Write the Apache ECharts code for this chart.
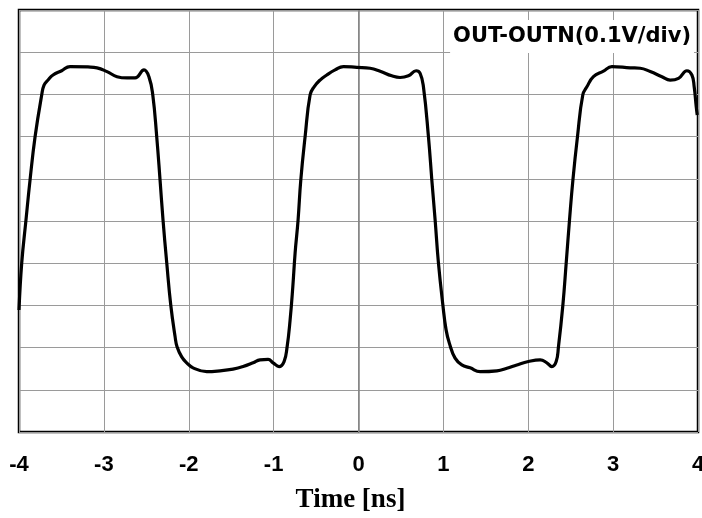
<!DOCTYPE html>
<html>
<head>
<meta charset="utf-8">
<script src="https://cdn.jsdelivr.net/npm/echarts@6/dist/echarts.min.js"></script>
<style>
html,body{margin:0;padding:0;background:#fff;}
#chart{width:702px;height:518px;}
</style>
</head>
<body>
<div id="chart"></div>
<script>
// Time [ns]
var timeNs = [
 -4.000,-3.968,-3.918,-3.870,-3.811,-3.732,-3.705,-3.658,-3.599,-3.497,-3.399,-3.187,-3.081,-2.963,-2.845,-2.727,-2.633,-2.527,-2.468,-2.424,
 -2.377,-2.338,-2.303,-2.259,-2.212,-2.161,-2.138,-2.083,-2.024,-1.949,-1.788,-1.631,-1.478,-1.360,-1.242,-1.160,-1.065,-1.006,-0.936,-0.877,
 -0.841,-0.806,-0.774,-0.747,-0.712,-0.680,-0.629,-0.570,-0.523,-0.453,-0.374,-0.276,-0.178,-0.020,0.137,0.255,0.392,0.490,0.588,0.679,
 0.726,0.765,0.824,0.864,0.903,0.942,0.994,1.032,1.071,1.138,1.217,1.315,1.433,1.630,1.748,1.866,2.002,2.140,2.219,2.278,
 2.329,2.356,2.408,2.447,2.486,2.526,2.580,2.643,2.691,2.768,2.886,2.985,3.201,3.319,3.437,3.575,3.672,3.770,3.869,3.928,
 3.955,3.979,3.991
];
// OUT-OUTN in divisions/10 (0.1 V per division, 10 divisions)
var outDiff = [
 0.289,0.400,0.502,0.597,0.699,0.799,0.822,0.834,0.846,0.856,0.866,0.865,0.863,0.854,0.842,0.839,0.839,0.858,0.841,0.799,
 0.699,0.597,0.502,0.400,0.301,0.226,0.202,0.178,0.164,0.152,0.143,0.145,0.149,0.155,0.164,0.171,0.172,0.164,0.155,0.167,
 0.202,0.265,0.344,0.424,0.502,0.597,0.700,0.799,0.818,0.834,0.846,0.858,0.866,0.864,0.862,0.855,0.844,0.840,0.844,0.856,
 0.850,0.818,0.700,0.597,0.502,0.400,0.301,0.242,0.210,0.175,0.159,0.152,0.143,0.145,0.151,0.159,0.167,0.171,0.164,0.155,
 0.167,0.202,0.301,0.400,0.502,0.597,0.700,0.799,0.818,0.842,0.855,0.866,0.863,0.862,0.854,0.842,0.834,0.838,0.856,0.846,
 0.818,0.771,0.751
];
var xTickLabels = ['-4','-3','-2','-1','0','1','2','3','4'];
var xTitle = 'Time [ns]';
var traceLabel = 'OUT-OUTN(0.1V/div)';

var seriesData = timeNs.map(function(t, i){ return [t, outDiff[i]]; });

var chart = echarts.init(document.getElementById('chart'), null, {renderer:'canvas'});
chart.setOption({
  animation: false,
  backgroundColor: '#fff',
  title: {
    text: traceLabel,
    right: 8,
    top: 20,
    padding: [5, 3, 5, 3],
    backgroundColor: '#fff',
    textStyle: {
      fontFamily: 'DejaVu Sans',
      fontWeight: 'bold',
      fontSize: 21,
      lineHeight: 23,
      color: '#000'
    },
    z: 10
  },
  grid: {
    left: 19, right: 4, top: 10, bottom: 86,
    outerBoundsMode: 'none',
    containLabel: false,
    show: true,
    borderColor: '#000',
    borderWidth: 2.5,
    backgroundColor: 'transparent'
  },
  xAxis: {
    type: 'value',
    min: -4, max: 4, interval: 1,
    name: xTitle,
    nameLocation: 'middle',
    nameGap: 55,
    nameTextStyle: {
      fontFamily: 'Liberation Serif',
      fontWeight: 'bold',
      fontSize: 27,
      color: '#000',
      padding: [0, 16, 0, 0]
    },
    axisLine: {show: false},
    axisTick: {show: false},
    axisLabel: {
      margin: 22,
      fontFamily: 'Liberation Sans',
      fontWeight: 'bold',
      fontSize: 22,
      color: '#000',
      formatter: function(v){ return xTickLabels[Math.round(v) + 4]; }
    },
    splitLine: {show: true, lineStyle: {color: '#9a9a9a', width: 1}}
  },
  yAxis: {
    type: 'value',
    min: 0, max: 1, interval: 0.1,
    axisLine: {show: false},
    axisTick: {show: false},
    axisLabel: {show: false},
    splitLine: {show: true, lineStyle: {color: '#9a9a9a', width: 1}}
  },
  series: [{
    type: 'line',
    data: seriesData,
    showSymbol: false,
    smooth: 0.45,
    lineStyle: {color: '#000', width: 3.2},
    z: 3,
    markLine: {
      silent: true,
      symbol: 'none',
      z: 1,
      label: {show: false},
      lineStyle: {color: '#808080', width: 1.5, type: 'solid'},
      data: [{xAxis: 0}]
    }
  }]
});
</script>
</body>
</html>
